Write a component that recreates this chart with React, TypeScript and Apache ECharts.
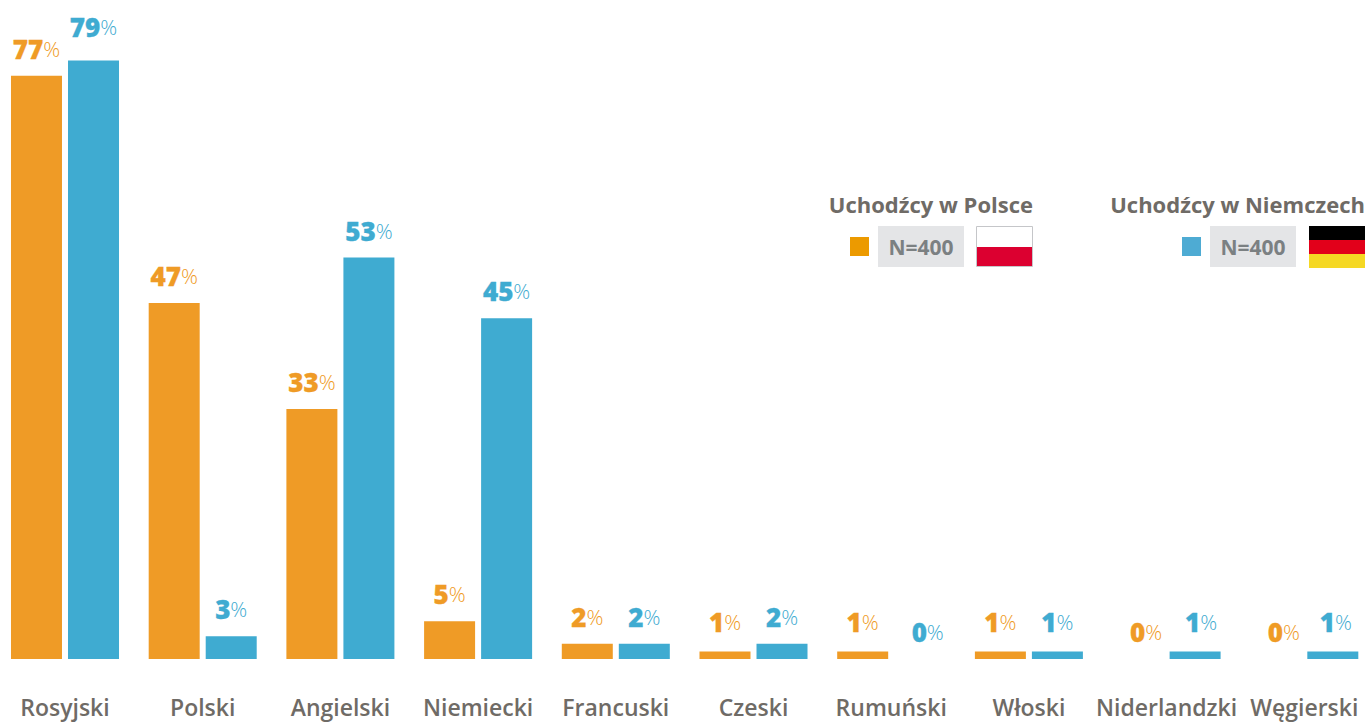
import React, { useEffect, useRef } from "react";
import * as echarts from "echarts";

const categories = ["Rosyjski", "Polski", "Angielski", "Niemiecki", "Francuski", "Czeski", "Rumuński", "Włoski", "Niderlandzki", "Węgierski"];
const poland = [77, 47, 33, 5, 2, 1, 1, 1, 0, 0];
const germany = [79, 3, 53, 45, 2, 2, 0, 1, 1, 1];
const orange = "#EF9B26";
const blue = "#3FABD1";
const font = "'Open Sans', sans-serif";

function series(name: string, data: number[], color: string, nudges: Record<number, number[]>) {
  return {
    name,
    type: "bar",
    data: data.map((value, i) => {
      const base = value === 0 ? [8, 0] : value === 1 ? [0, -2] : [0, 0];
      const n = nudges[i] || [0, 0];
      return { value, label: { offset: [base[0] + n[0], base[1] + n[1]] } };
    }),
    barWidth: 51,
    barGap: "11.8%",
    itemStyle: { color },
    label: {
      show: true,
      position: "top",
      distance: 12,
      formatter: (p: any) => `{v|${p.value}}{p|%}`,
      rich: {
        v: { fontFamily: font, fontSize: 26, fontWeight: 800, color, lineHeight: 30, textBorderColor: color, textBorderWidth: 0.3 },
        p: { fontFamily: font, fontSize: 21, fontWeight: 300, color, lineHeight: 30 },
      },
    },
  };
}

function legend(x: number, title: string, titleRight: number, color: string) {
  return [
    { type: "text", style: { x: titleRight, y: 204, text: title, align: "right", verticalAlign: "middle", font: `700 22px ${font}`, fill: "#6F6B66" } },
    { type: "rect", shape: { x, y: 237, width: 19, height: 19 }, style: { fill: color } },
    { type: "rect", shape: { x: x + 28, y: 226, width: 86, height: 41 }, style: { fill: "#E4E5E7" } },
    { type: "text", style: { x: x + 71, y: 247, text: "N=400", align: "center", verticalAlign: "middle", font: `700 21px ${font}`, fill: "#7B8082" } },
  ];
}

export default function App() {
  const ref = useRef<HTMLDivElement>(null);
  useEffect(() => {
    document.body.style.margin = "0";
    const chart = echarts.init(ref.current!, null, { renderer: "svg" });
    chart.setOption({
      animation: false,
      grid: { left: -3.85, top: 0, width: 1377, height: 659, outerBoundsMode: "none", containLabel: false },
      xAxis: {
        type: "category",
        data: categories,
        axisLine: { show: false },
        axisTick: { show: false },
        axisLabel: { fontFamily: font, fontSize: 23, fontWeight: 600, color: "#6F6B66", margin: 36, lineHeight: 24, interval: 0 },
      },
      yAxis: { type: "value", min: 0, max: 87, show: false },
      series: [
        series("Uchodźcy w Polsce", poland, orange, {}),
        series("Uchodźcy w Niemczech", germany, blue, { 0: [0, -7], 8: [6, 0], 9: [3, 0] }),
      ],
      graphic: [
        ...legend(850, "Uchodźcy w Polsce", 1033, "#EC9A00"),
        { type: "rect", shape: { x: 976.5, y: 226.5, width: 56, height: 40 }, style: { fill: "#fff", stroke: "#C5C6C9", lineWidth: 1 } },
        { type: "rect", shape: { x: 977, y: 247, width: 55, height: 19 }, style: { fill: "#DC0030" } },
        ...legend(1182, "Uchodźcy w Niemczech", 1365, "#4EABD3"),
        { type: "rect", shape: { x: 1309, y: 226, width: 56, height: 14 }, style: { fill: "#000" } },
        { type: "rect", shape: { x: 1309, y: 240, width: 56, height: 14 }, style: { fill: "#E2001A" } },
        { type: "rect", shape: { x: 1309, y: 254, width: 56, height: 14 }, style: { fill: "#F5D824" } },
      ],
    });
    return () => chart.dispose();
  }, []);
  return <div ref={ref} style={{ position: "absolute", left: 0, top: 0, width: 1365, height: 722, background: "#fff" }} />;
}
